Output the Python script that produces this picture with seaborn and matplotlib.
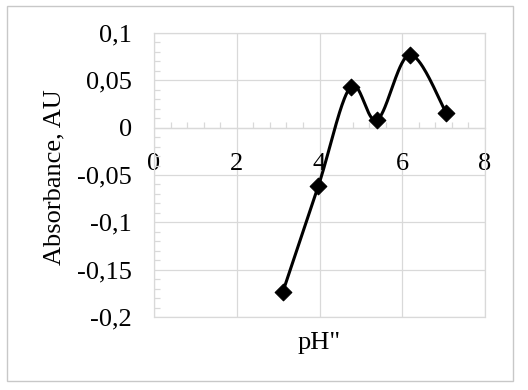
import numpy as np
import pandas as pd
import matplotlib
matplotlib.use("Agg")
import matplotlib.pyplot as plt
import seaborn as sns
from matplotlib.ticker import MultipleLocator, FixedLocator
from matplotlib.patches import Rectangle

# ---- data ----
ph = [3.11, 3.97, 4.75, 5.39, 6.18, 7.06]
absorbance = [-0.174, -0.062, 0.043, 0.008, 0.077, 0.016]
x_ticks = [0, 2, 4, 6, 8]
x_tick_labels = ["0", "2", "4", "6", "8"]
y_ticks = [-0.2, -0.15, -0.1, -0.05, 0, 0.05, 0.1]
y_tick_labels = ["-0,2", "-0,15", "-0,1", "-0,05", "0", "0,05", "0,1"]
x_label = "pH\""
y_label = "Absorbance, AU"

sns.set_theme(style="white")
plt.rcParams["font.family"] = ["Liberation Serif", "DejaVu Serif"]

GRID = "#d9d9d9"
FS = 19


def smooth_curve(xs, ys, n=40):
    """Excel-like smoothed line (Catmull-Rom as cubic Bezier)."""
    P = np.column_stack([xs, ys]).astype(float)
    m = len(P)
    out = []
    t = np.linspace(0, 1, n)[:, None]
    for i in range(m - 1):
        p0 = P[i]
        p3 = P[i + 1]
        pm = P[i - 1] if i > 0 else P[i]
        pp = P[i + 2] if i + 2 < m else P[i + 1]
        c1 = p0 + (p3 - pm) / 6.0
        c2 = p3 - (pp - p0) / 6.0
        seg = ((1 - t) ** 3) * p0 + 3 * ((1 - t) ** 2) * t * c1 + 3 * (1 - t) * t ** 2 * c2 + t ** 3 * p3
        out.append(seg if i == 0 else seg[1:])
    out = np.vstack(out)
    return out[:, 0], out[:, 1]


sx, sy = smooth_curve(ph, absorbance)
curve = pd.DataFrame({"x": sx, "y": sy})
points = pd.DataFrame({"pH": ph, "A": absorbance})

fig = plt.figure(figsize=(5.28, 3.90), dpi=100)
fig.patch.set_facecolor("white")
ax = fig.add_axes([154 / 528, 1 - 317 / 390, (485 - 154) / 528, (317 - 33) / 390])

ax.set_xlim(0, 8)
ax.set_ylim(-0.2, 0.1)

sns.lineplot(data=curve, x="x", y="y", sort=False, estimator=None,
             color="black", linewidth=2.2, ax=ax, zorder=4)
sns.scatterplot(data=points, x="pH", y="A", marker="D", s=72, color="black",
                edgecolor="black", linewidth=0.8, ax=ax, zorder=5)

# ticks & grid
ax.xaxis.set_major_locator(FixedLocator(x_ticks))
ax.set_xticklabels(x_tick_labels)
ax.yaxis.set_major_locator(FixedLocator(y_ticks))
ax.set_yticklabels(y_tick_labels)
ax.xaxis.set_minor_locator(MultipleLocator(0.4))
ax.yaxis.set_minor_locator(MultipleLocator(0.01))
ax.grid(True, which="major", color=GRID, linewidth=0.9)
ax.set_axisbelow(True)

ax.tick_params(axis="x", which="major", length=0, pad=18.5, labelsize=FS, colors="black")
ax.tick_params(axis="y", which="major", length=0, pad=16, labelsize=FS, colors="black")
ax.tick_params(axis="x", which="minor", direction="in", length=4, width=0.9,
               color=GRID, bottom=True)
ax.tick_params(axis="y", which="minor", direction="in", length=4.5, width=0.9,
               color=GRID, left=True)

for side in ["left", "right", "top", "bottom"]:
    ax.spines[side].set_color(GRID)
    ax.spines[side].set_linewidth(0.9)
ax.spines["bottom"].set_position(("data", 0))
ax.axhline(-0.2, color=GRID, linewidth=0.9, clip_on=False, zorder=0)

ax.set_xlabel(x_label, fontsize=FS, color="black")
ax.set_ylabel(y_label, fontsize=FS, color="black")
ax.xaxis.set_label_coords(0.5, (317 - 343) / 284)
ax.xaxis.label.set_verticalalignment("center")
ax.yaxis.set_label_coords((54 - 154) / 331, (317 - 177) / 284)
ax.yaxis.label.set_verticalalignment("center")

# outer chart border
fig.patches.append(Rectangle((7 / 528, 1 - 381 / 390), (513 - 7) / 528, (381 - 6) / 390,
                             transform=fig.transFigure, fill=False,
                             edgecolor="#c8c8c8", linewidth=1.0))

fig.savefig("out.png", dpi=100, facecolor="white")
